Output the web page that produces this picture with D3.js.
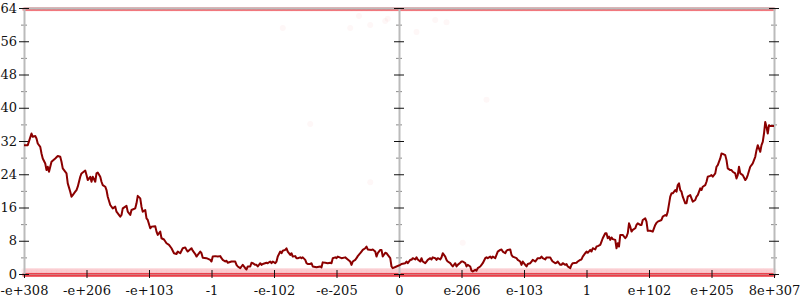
<!DOCTYPE html>
<html>
<head>
<meta charset="utf-8">
<script src="https://cdn.jsdelivr.net/npm/d3@7"></script>
<style>
  body { margin: 0; background: #fff; }
  svg { display: block; font-family: 'DejaVu Serif', serif; }
</style>
</head>
<body>
<div id="chart"></div>
<script>
// x labels for the 13 major ticks (bins 0..600, step 50)
const xTickLabels = ['-e+308', '-e+206', '-e+103', '-1', '-e-102', '-e-205', '0',
    'e-206', 'e-103', '1', 'e+102', 'e+205', '8e+307'];
const xTickBins = [0, 50, 100, 150, 200, 250, 300, 350, 400, 450, 500, 550, 600];
const yMajorTicks = [0, 8, 16, 24, 32, 40, 48, 56, 64];
const yMinorTicks = [4, 12, 20, 28, 36, 44, 52, 60];

// smoothed curve, [bin, value]
const curve = [
    [0, 31.0], [3, 31.0], [6, 33.8], [7, 33.0], [9, 33.2], [10, 32.6], [11, 31.4], [13, 30.6],
    [14, 29.0], [15, 27.8], [17, 26.6], [18, 25.0], [19, 25.8], [20, 24.6], [22, 27.0], [25, 27.8],
    [27, 28.4], [29, 28.2], [30, 27.0], [31, 25.4], [34, 24.2], [35, 21.8], [37, 19.8], [38, 18.6],
    [39, 19.0], [41, 19.8], [42, 20.2], [43, 21.0], [45, 23.4], [46, 24.2], [49, 24.9], [50, 23.8],
    [51, 22.6], [53, 23.4], [54, 22.2], [55, 23.4], [57, 22.2], [58, 24.2], [59, 24.4], [61, 23.4],
    [62, 22.2], [63, 21.4], [65, 21.0], [66, 20.2], [67, 18.6], [69, 16.6], [71, 15.8], [73, 16.2],
    [74, 15.0], [77, 13.8], [78, 14.2], [79, 15.8], [82, 16.4], [83, 15.0], [85, 14.2], [86, 15.4],
    [89, 15.8], [90, 17.0], [91, 18.8], [93, 18.2], [94, 16.2], [95, 15.0], [97, 15.4], [98, 13.4],
    [99, 13.0], [101, 11.0], [102, 11.4], [105, 11.5], [106, 10.2], [107, 9.4], [109, 10.2], [110, 8.6],
    [112, 8.3], [114, 7.4], [116, 7.0], [118, 6.2], [120, 5.0], [122, 4.8], [123, 5.4], [125, 5.0],
    [127, 6.2], [129, 6.4], [130, 5.8], [131, 5.4], [134, 6.2], [135, 5.6], [137, 4.8], [138, 4.2],
    [141, 5.4], [142, 5.0], [143, 3.9], [146, 3.8], [149, 3.4], [150, 3.0], [151, 4.2], [153, 4.3],
    [155, 4.2], [157, 4.3], [158, 3.8], [159, 3.4], [161, 3.0], [162, 3.2], [163, 2.7], [166, 3.0],
    [169, 3.0], [170, 2.2], [171, 1.8], [173, 1.4], [174, 1.8], [175, 2.2], [177, 1.4], [178, 1.1],
    [179, 1.8], [181, 1.8], [182, 2.7], [183, 2.6], [185, 2.2], [186, 2.2], [187, 1.8], [189, 2.6],
    [190, 2.2], [191, 2.4], [194, 2.7], [195, 2.6], [197, 3.0], [198, 2.6], [199, 3.0], [201, 2.6],
    [202, 3.0], [203, 4.2], [205, 5.4], [206, 5.0], [207, 5.6], [209, 5.8], [210, 6.2], [211, 5.4],
    [213, 4.6], [214, 5.0], [215, 4.2], [217, 4.3], [218, 3.8], [219, 3.8], [221, 4.0], [222, 3.8],
    [223, 4.0], [225, 3.4], [226, 2.6], [227, 2.4], [229, 2.4], [230, 2.6], [231, 1.8], [234, 1.6],
    [237, 1.8], [238, 1.6], [239, 2.8], [241, 2.7], [243, 2.6], [245, 2.7], [246, 2.6], [247, 3.8],
    [249, 4.0], [250, 3.8], [251, 4.2], [254, 3.8], [257, 4.0], [259, 3.5], [261, 3.0], [262, 2.2],
    [263, 3.0], [265, 3.4], [266, 3.8], [267, 4.3], [269, 5.0], [270, 5.4], [271, 5.8], [273, 6.2],
    [274, 6.6], [275, 5.9], [278, 5.8], [279, 5.9], [281, 5.4], [282, 4.2], [283, 5.0], [285, 5.8],
    [286, 5.8], [287, 4.2], [289, 5.1], [290, 5.0], [291, 4.6], [293, 3.8], [294, 1.8], [295, 1.4],
    [298, 1.8], [301, 2.2], [302, 2.4], [305, 2.6], [306, 3.0], [307, 2.6], [309, 3.4], [310, 3.4],
    [311, 3.8], [313, 3.5], [314, 4.0], [315, 3.5], [317, 3.0], [318, 3.8], [319, 3.0], [321, 2.6],
    [322, 3.0], [323, 3.4], [325, 3.8], [326, 3.5], [327, 4.0], [329, 3.8], [330, 3.4], [331, 3.8],
    [333, 3.5], [334, 4.0], [335, 5.0], [337, 4.2], [338, 3.4], [339, 3.0], [341, 2.6], [342, 2.2],
    [343, 1.8], [345, 2.6], [346, 1.8], [347, 2.2], [349, 2.7], [350, 3.0], [351, 3.0], [353, 2.6],
    [354, 1.8], [355, 2.2], [357, 1.8], [358, 0.8], [359, 0.6], [361, 1.0], [362, 0.8], [363, 1.4],
    [365, 1.8], [366, 2.2], [367, 2.6], [369, 3.8], [370, 4.0], [371, 3.8], [373, 4.2], [374, 3.8],
    [375, 4.2], [377, 3.8], [378, 4.6], [379, 5.4], [381, 5.8], [382, 5.9], [383, 5.4], [385, 5.0],
    [386, 5.6], [387, 5.8], [389, 5.9], [390, 4.6], [391, 4.2], [394, 3.8], [395, 3.4], [397, 3.0],
    [398, 2.2], [399, 3.0], [401, 2.2], [402, 1.8], [403, 2.4], [405, 2.6], [406, 3.0], [407, 3.4],
    [409, 3.0], [410, 3.4], [411, 3.8], [413, 3.8], [414, 4.2], [415, 3.8], [417, 3.5], [418, 4.0],
    [421, 4.0], [422, 3.4], [423, 3.0], [425, 2.6], [426, 2.7], [427, 3.0], [429, 2.2], [430, 2.2],
    [431, 2.6], [433, 2.2], [434, 2.4], [435, 1.8], [437, 1.4], [438, 2.2], [439, 2.6], [442, 2.7],
    [443, 3.0], [445, 3.4], [446, 3.5], [447, 4.2], [449, 5.0], [450, 5.4], [451, 5.1], [453, 5.8],
    [454, 5.4], [455, 6.2], [457, 5.9], [458, 6.6], [459, 6.7], [461, 7.0], [462, 7.8], [463, 8.6],
    [465, 9.8], [466, 9.8], [467, 8.6], [468, 9.0], [469, 8.2], [470, 8.8], [471, 8.4], [473, 8.2],
    [474, 6.2], [475, 7.4], [476, 6.6], [477, 9.4], [479, 9.4], [481, 8.6], [482, 9.0], [483, 9.8],
    [484, 12.2], [485, 11.4], [486, 10.2], [487, 10.6], [489, 11.0], [490, 11.8], [491, 12.2], [493, 11.8],
    [494, 11.8], [495, 13.0], [497, 13.4], [498, 12.6], [499, 10.4], [501, 10.4], [503, 10.2], [505, 11.8],
    [506, 12.3], [507, 12.6], [510, 13.0], [511, 13.8], [513, 14.2], [514, 14.0], [515, 15.0], [517, 18.6],
    [518, 19.4], [519, 19.4], [521, 20.2], [522, 19.8], [523, 21.4], [524, 21.8], [525, 20.2], [526, 19.8],
    [527, 18.6], [529, 17.0], [530, 17.0], [531, 18.6], [533, 19.0], [534, 18.2], [535, 17.4], [537, 17.8],
    [538, 18.6], [539, 19.0], [541, 20.6], [542, 20.2], [543, 21.0], [545, 21.4], [546, 22.2], [547, 23.4],
    [549, 23.6], [550, 23.8], [551, 23.4], [553, 24.2], [554, 25.8], [555, 26.2], [557, 27.8], [558, 29.0],
    [559, 28.9], [561, 28.6], [562, 27.4], [563, 25.4], [565, 25.0], [566, 25.0], [567, 24.6], [569, 24.2],
    [570, 23.0], [571, 23.8], [572, 25.8], [573, 24.2], [575, 23.8], [577, 22.6], [578, 23.0], [579, 23.8],
    [581, 25.8], [582, 26.2], [583, 26.6], [585, 28.2], [586, 29.8], [587, 31.0], [589, 29.4], [590, 31.0],
    [591, 31.8], [592, 33.8], [593, 36.6], [594, 35.4], [595, 33.8], [596, 35.8], [597, 35.6], [600, 35.6]
];

// raw samples pile up at the two extremes in every bin
const bandBins = d3.range(0, 601);
const bandValues = [-0.2, 0.7, 63.7];

// the few stray samples seen between the bands, [bin, value]
const strays = [
    [261, 59.2], [268, 62.1], [277, 59.9], [289, 60.9], [291, 61.4], [314, 58.2], [329, 61.1],
    [338, 60.6], [207, 59.2], [277, 22.1], [351, 7.5], [229, 36.1], [370, 41.9]
];

const width = 800, height = 300;
const margin = { top: 8, right: 26, bottom: 26, left: 24 };

const svg = d3.select('#chart').append('svg')
    .attr('width', width)
    .attr('height', height);

const x = d3.scaleLinear().domain([0, 600]).range([margin.left, width - margin.right]);
const y = d3.scaleLinear().domain([0, 64]).range([height - margin.bottom, margin.top]);

// vertical axes: left, middle, right
function vAxis(xPos, withLabels) {
    const g = svg.append('g').attr('transform', `translate(${xPos},0)`);
    // minor ticks
    g.append('g')
        .call(d3.axisLeft(y).tickValues(yMinorTicks).tickSize(3).tickSizeOuter(0).tickFormat(''))
        .call(a => a.select('.domain').remove())
        .call(a => a.selectAll('.tick line').attr('x1', 3).attr('x2', -3).attr('stroke', '#888'));
    // major ticks
    g.append('g')
        .call(d3.axisLeft(y).tickValues(yMajorTicks).tickSize(5).tickSizeOuter(0).tickPadding(2)
            .tickFormat(withLabels ? d => d : ''))
        .call(a => a.select('.domain').attr('stroke', '#bbb').attr('stroke-width', 2))
        .call(a => a.selectAll('.tick line').attr('x1', 5).attr('x2', -5).attr('stroke', '#111'))
        .call(a => a.selectAll('.tick text').attr('font-size', 13)
            .attr('font-family', "'DejaVu Serif', serif").attr('fill', '#111'));
}

// band points (drawn first so the frame sits on top)
const bandOpacity = [0.42, 0.05, 0.3];
const bandRadius = [2.2, 3, 2];
bandValues.forEach((v, i) => {
    svg.append('g')
        .selectAll('circle')
        .data(bandBins)
        .enter()
        .append('circle')
        .attr('cx', d => x(d))
        .attr('cy', y(v))
        .attr('r', bandRadius[i])
        .attr('fill', '#e8141e')
        .attr('fill-opacity', bandOpacity[i]);
});

// stray points
svg.append('g')
    .selectAll('circle')
    .data(strays)
    .enter()
    .append('circle')
    .attr('cx', d => x(d[0]))
    .attr('cy', d => y(d[1]))
    .attr('r', 3)
    .attr('fill', '#e8141e')
    .attr('fill-opacity', 0.035);

// top border
svg.append('g')
    .attr('transform', `translate(0,${y(64)})`)
    .call(d3.axisTop(x).tickValues([]).tickSizeOuter(0))
    .call(a => a.select('.domain').attr('stroke', '#bbb').attr('stroke-width', 2));

// bottom axis
svg.append('g')
    .attr('transform', `translate(0,${y(0)})`)
    .call(d3.axisBottom(x).tickValues(xTickBins).tickSizeOuter(0).tickSize(4)
        .tickFormat((d, i) => xTickLabels[i]))
    .call(a => a.select('.domain').attr('stroke', '#bbb').attr('stroke-width', 1).attr('stroke-opacity', 0.5))
    .call(a => a.selectAll('.tick line').attr('y1', -4).attr('y2', 4).attr('stroke', '#111'))
    .call(a => a.selectAll('.tick text').attr('y', 12).attr('font-size', 13)
        .attr('font-family', "'DejaVu Serif', serif").attr('fill', '#111'));

vAxis(x(0), true);
vAxis(x(300), false);
vAxis(x(600), false);

// curve
const line = d3.line()
    .x(d => x(d[0]))
    .y(d => y(d[1]));

svg.append('path')
    .datum(curve)
    .attr('d', line)
    .attr('fill', 'none')
    .attr('stroke', '#8b0000')
    .attr('stroke-width', 2)
    .attr('stroke-linejoin', 'round');
</script>
</body>
</html>
